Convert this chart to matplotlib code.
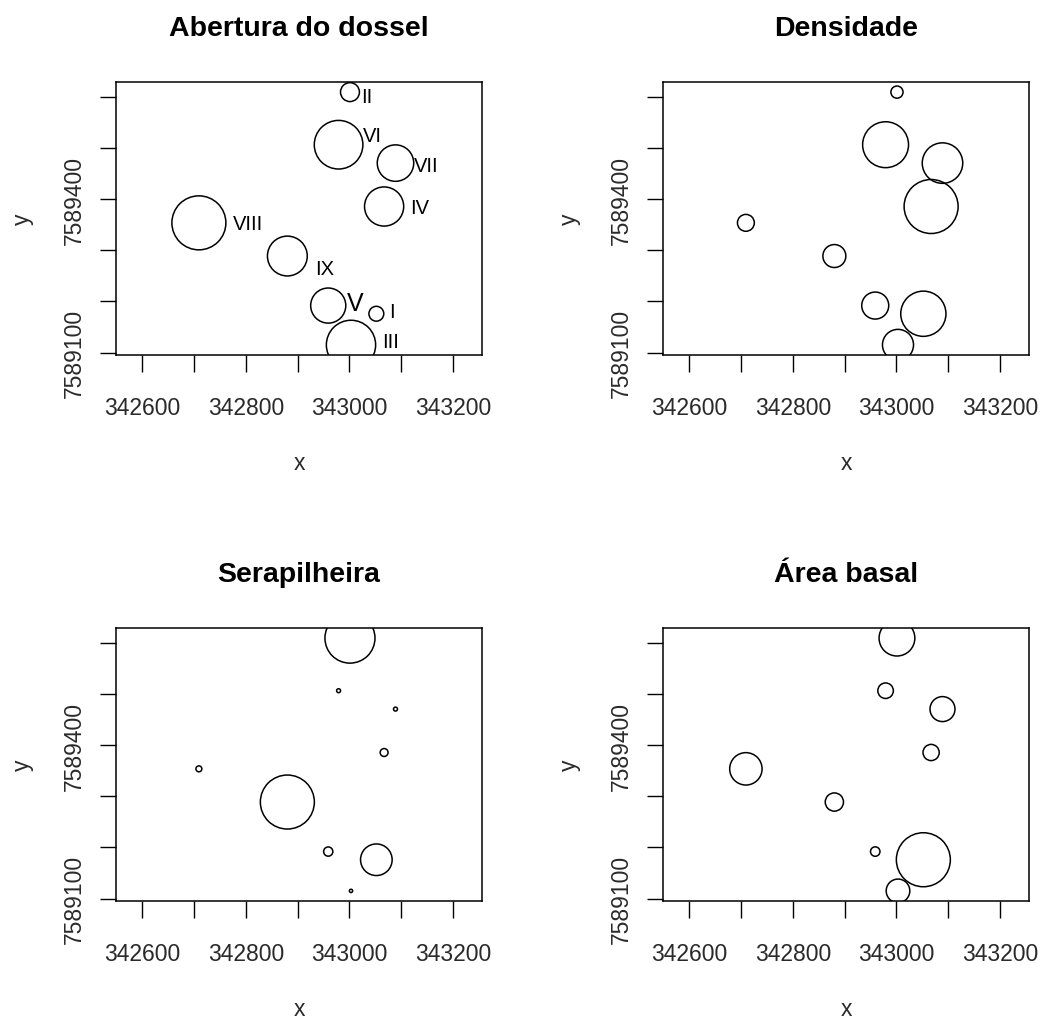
import matplotlib
matplotlib.use("Agg")
import matplotlib.pyplot as plt
import numpy as np

plt.rcParams['font.family'] = ['Liberation Sans', 'DejaVu Sans']

# plot names and UTM coordinates of the nine plots
plot_names = ['I', 'II', 'III', 'IV', 'V', 'VI', 'VII', 'VIII', 'IX']
x_coord = [343052, 343001, 343003, 343067, 342959, 342979, 343089, 342709, 342880]
y_coord = [7589176, 7589610, 7589115, 7589386, 7589192, 7589507, 7589471, 7589354, 7589289]

# circle radii (relative, each panel scaled to its own max like symbols())
abertura = [22, 28, 73, 58, 52, 72, 54, 80, 59]
densidade = [67, 18, 46, 80, 40, 68, 60, 25, 34]
serapilheira = [48, 76, 5, 12, 14, 6, 6, 9, 82]
area_basal = [80, 53, 35, 24, 14, 23, 37, 48, 27]

titles = ['Abertura do dossel', 'Densidade', 'Serapilheira', 'Área basal']
x_ticks = list(range(342600, 343201, 100))
y_ticks = list(range(7589100, 7589601, 100))
x_ticklabels = ['342600', '', '342800', '', '343000', '', '343200']
y_ticklabels = ['7589100', '', '', '7589400', '', '']

W, H = 1041, 1020
fig = plt.figure(figsize=(W / 100, H / 100), dpi=100)

# axes boxes in pixels: left, top, right, bottom
boxes = [(116, 83, 482, 356), (663, 83, 1029, 356),
         (116, 629, 482, 902), (663, 629, 1029, 902)]

# offsets (px, right / down) for the plot labels in the first panel
label_off = [(13, -2), (11, 4), (31, -3), (26, 1), (19, -3),
             (24, -9), (18, 2), (34, 1), (28, 12)]

R_MAX = 27  # px radius of the biggest circle


def r_style_lim(v):
    lo, hi = min(v), max(v)
    d = (hi - lo) * 0.04
    return lo - d, hi + d


for i, vals in enumerate([abertura, densidade, serapilheira, area_basal]):
    l, t, r, b = boxes[i]
    ax = fig.add_axes([l / W, 1 - b / H, (r - l) / W, (b - t) / H])

    vals = np.array(vals, dtype=float)
    rad_px = vals / vals.max() * R_MAX
    diam_pt = 2 * rad_px * 72 / 100
    ax.scatter(x_coord, y_coord, s=diam_pt ** 2, facecolors='none',
               edgecolors='black', linewidths=1.1, zorder=3)

    ax.set_xlim(r_style_lim([342575, 343230]))
    ax.set_ylim(r_style_lim(y_coord))

    ax.set_xticks(x_ticks)
    ax.set_xticklabels(x_ticklabels)
    ax.set_yticks(y_ticks)
    ax.set_yticklabels(y_ticklabels, rotation=90, va='center')
    ax.tick_params(axis='x', length=12.5, width=1.0, pad=17, labelsize=16.5,
                   labelcolor='#2a2a2a')
    ax.tick_params(axis='y', length=11.5, width=1.0, pad=10, labelsize=16.5,
                   labelcolor='#2a2a2a')
    for sp in ax.spines.values():
        sp.set_linewidth(1.1)

    ax.set_title(titles[i], fontsize=20.5, fontweight='bold', pad=0,
                 y=1 + 54 / (b - t), va='center')
    ax.text(0.5, -108 / (b - t), 'x', transform=ax.transAxes,
            ha='center', va='center', fontsize=16.5, color='#2a2a2a')
    ax.text(-94 / (r - l), 0.5, 'y', transform=ax.transAxes, rotation=90,
            ha='center', va='center', fontsize=16.5, color='#2a2a2a')

    if i == 0:
        for name, xx, yy, (dx, dy) in zip(plot_names, x_coord, y_coord, label_off):
            ax.annotate(name, (xx, yy), xytext=(dx * 0.72, -dy * 0.72),
                        textcoords='offset points', ha='left', va='center',
                        fontsize=18 if name == 'V' else 14.5, color='black')

fig.savefig('out.png', dpi=100)
